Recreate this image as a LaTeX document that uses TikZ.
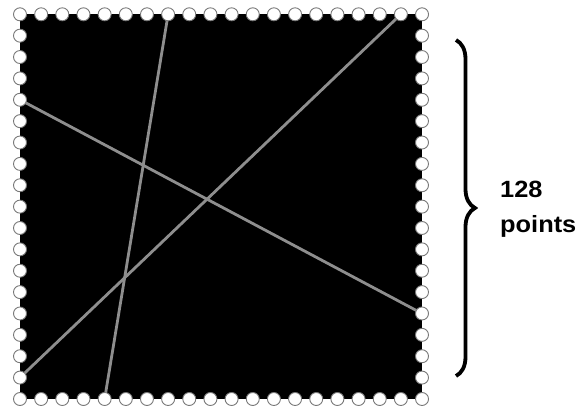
\documentclass[tikz,border=0pt]{standalone}
\usepackage{fontspec}
\setmainfont{Liberation Sans}
\usetikzlibrary{decorations.pathreplacing}
\definecolor{figG}{RGB}{142,142,142}
\definecolor{figO}{RGB}{120,120,120}

\begin{document}
\begin{tikzpicture}[x=1pt,y=-1pt,
  chord/.style={figG,line width=2.8pt},
  dotnode/.style={circle,draw=figO,fill=white,line width=0.9pt,minimum size=13pt,inner sep=0pt},
  lbl/.style={font=\bfseries\fontsize{23.5}{28}\selectfont,inner sep=0pt,anchor=base west}]
\useasboundingbox (0,0) rectangle (579,409);
% square, 20 points along a row and 19 along a column
\fill[black] (20,14.3) rectangle (422,399);
\foreach \i in {0,...,19} {
  \coordinate (t\i) at ({20+\i*21.16},14.3);
  \coordinate (b\i) at ({20+\i*21.16},399);
}
\foreach \j in {0,...,18} {
  \coordinate (l\j) at (20,{14.3+\j*21.37});
  \coordinate (r\j) at (422,{14.3+\j*21.37});
}
\draw[chord] (t7) -- (b4);
\draw[chord] (l4) -- (r14);
\draw[chord] (l17) -- (t18);
% sample points on the border
\foreach \i in {0,...,19} {
  \node[dotnode] (dt\i) at (t\i) {};
  \node[dotnode] (db\i) at (b\i) {};
}
\foreach \j in {1,...,17} {
  \node[dotnode] (dl\j) at (l\j) {};
  \node[dotnode] (dr\j) at (r\j) {};
}
\draw[decorate,decoration={brace,amplitude=19pt},line width=3.8pt] (456,40) -- (456,376);
\node[lbl] (num) at (500,198) {\scalebox{1.08}[1]{128}};
\node[lbl] (unit) at (500,233) {\scalebox{1.08}[1]{points}};
\end{tikzpicture}
\end{document}
